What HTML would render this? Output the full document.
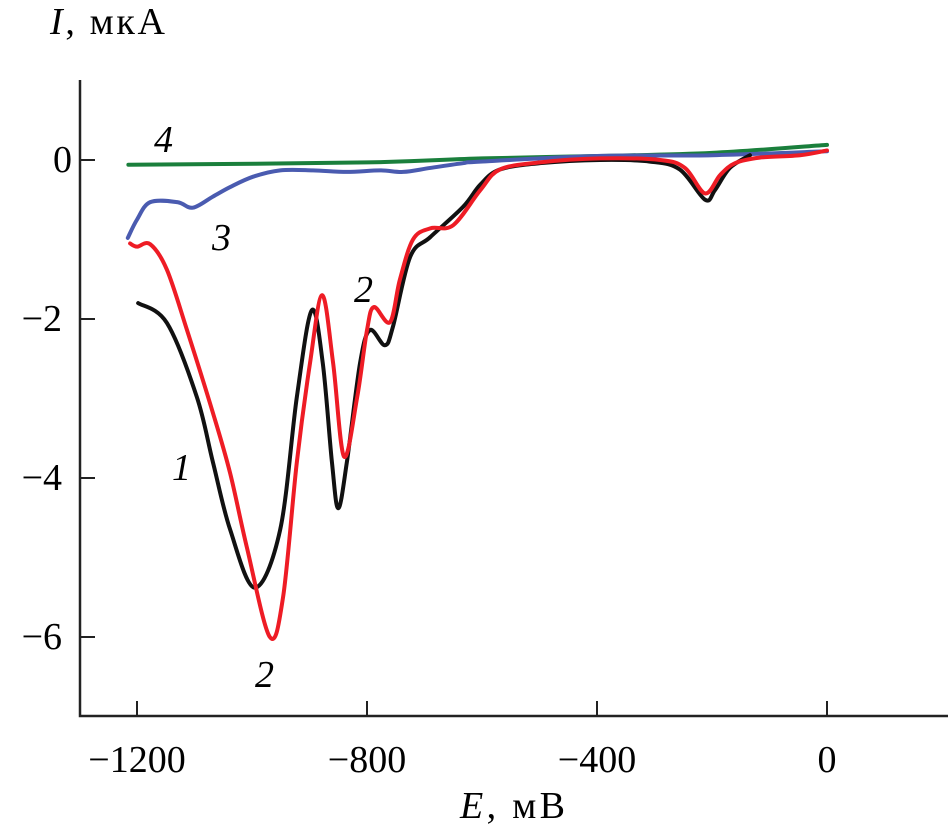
<!DOCTYPE html>
<html><head><meta charset="utf-8"><style>
html,body{margin:0;padding:0;background:#fff;}
svg{display:block;font-family:"Liberation Serif",serif;}
</style></head><body>
<svg id="chart" width="948" height="833" viewBox="0 0 948 833">
<g id="axes"></g>
<g id="series"></g>
<text x="50" y="34" font-size="38" textLength="115"><tspan font-style="italic">I</tspan>, мкА</text>
<text x="460" y="818" font-size="38" textLength="105"><tspan font-style="italic">E</tspan>, мВ</text>
<text x="172" y="480" font-size="38" font-style="italic">1</text>
<text x="354" y="302" font-size="38" font-style="italic">2</text>
<text x="255" y="687" font-size="38" font-style="italic">2</text>
<text x="212" y="250" font-size="38" font-style="italic">3</text>
<text x="154" y="152" font-size="38" font-style="italic">4</text>
</svg>
<script>
const xTicks=[-1200,-800,-400,0];
const yTicks=[0,-2,-4,-6];
const e1=[-1198,-1148,-1096,-1068,-1038,-995,-951,-922,-896,-877,-861,-850,-835,-812,-795,-769,-755,-725,-690,-633,-603,-569,-499,-395,-308,-256,-212,-195,-169,-134];
const i1=[-1.80,-2.05,-2.98,-3.8,-4.65,-5.38,-4.65,-2.98,-1.89,-2.55,-3.8,-4.38,-3.8,-2.55,-2.14,-2.33,-2.1,-1.22,-0.97,-0.59,-0.31,-0.12,-0.04,0,-0.02,-0.12,-0.5,-0.38,-0.1,0.06];
const e2=[-1212,-1200,-1177,-1148,-1113,-1068,-1038,-1009,-969,-946,-922,-899,-878,-859,-840,-817,-800,-788,-760,-743,-720,-690,-650,-603,-569,-499,-395,-290,-247,-212,-186,-160,-117,-47,0];
const i2=[-1.05,-1.09,-1.06,-1.38,-2.14,-3.18,-3.94,-4.87,-6.0,-5.5,-3.8,-2.55,-1.70,-2.55,-3.73,-2.98,-2.14,-1.85,-2.04,-1.51,-1.0,-0.86,-0.82,-0.38,-0.12,-0.03,0.02,0,-0.1,-0.42,-0.19,-0.04,0.03,0.06,0.12];
const e3=[-1216,-1200,-1177,-1130,-1103,-1068,-1038,-998,-951,-894,-835,-777,-737,-690,-633,-603,-400,-200,0];
const i3=[-0.98,-0.75,-0.53,-0.53,-0.6,-0.46,-0.34,-0.21,-0.13,-0.13,-0.15,-0.13,-0.15,-0.1,-0.04,-0.02,0.05,0.06,0.11];
const e4=[-1215,-800,-600,-400,-200,0];
const i4=[-0.06,-0.03,0.02,0.05,0.09,0.19];
const X=e=>827+0.575*e;
const Y=i=>160-79.5*i;
const NS="http://www.w3.org/2000/svg";
const axes=document.getElementById('axes');
const ser=document.getElementById('series');
function mk(tag,attrs,parent){const el=document.createElementNS(NS,tag);for(const k in attrs)el.setAttribute(k,attrs[k]);parent.appendChild(el);return el;}
let ax=mk('path',{d:'M80,80 L80,716 L948,716',fill:'none',stroke:'#222','stroke-width':2.5},axes);


xTicks.forEach(v=>{
 const t=mk('line',{x1:X(v),x2:X(v),y1:716,y2:701,stroke:'#222','stroke-width':2},axes);
 
 
 const l=mk('text',{x:X(v),y:772,'font-size':38,'text-anchor':'middle'},axes);
 l.textContent=(v<0?'\u2212'+(-v):v);
 
 
});
yTicks.forEach(v=>{
 const t=mk('line',{x1:80,x2:95,y1:Y(v),y2:Y(v),stroke:'#222','stroke-width':2},axes);
 
 
 const l=mk('text',{x:v===0?72:62,y:Y(v)+12,'font-size':38,'text-anchor':'end'},axes);
 l.textContent=(v<0?'\u2212'+(-v):v);
 
 
});
function smooth(es,is){
 const p=es.map((e,k)=>[X(e),Y(is[k])]);
 let d='M'+p[0][0]+','+p[0][1];
 for(let k=0;k<p.length-1;k++){
  const p0=p[k-1]||p[k],p1=p[k],p2=p[k+1],p3=p[k+2]||p2;
  const c1=[p1[0]+(p2[0]-p0[0])/6,p1[1]+(p2[1]-p0[1])/6];
  const c2=[p2[0]-(p3[0]-p1[0])/6,p2[1]-(p3[1]-p1[1])/6];
  d+=` C${c1[0]},${c1[1]} ${c2[0]},${c2[1]} ${p2[0]},${p2[1]}`;
 }
 return d;
}
const specs=[[e4,i4,'#1a7f3c','curve-4'],[e3,i3,'#4a5bb0','curve-3'],[e1,i1,'#111','curve-1'],[e2,i2,'#ee1c25','curve-2']];
specs.forEach(s=>{
 const p=mk('path',{d:smooth(s[0],s[1]),fill:'none',stroke:s[2],'stroke-width':4,'stroke-linejoin':'round','stroke-linecap':'round'},ser);
 
 
});
</script>
</body></html>
